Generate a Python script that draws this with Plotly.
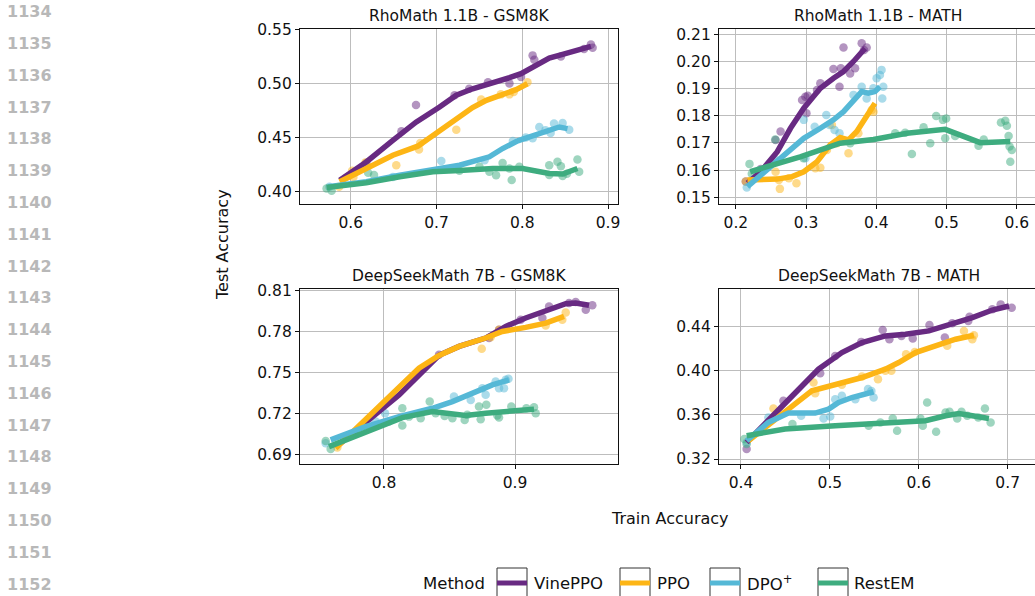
import plotly.graph_objects as go

W, H = 1035, 596

# ---------------- data ----------------
METHODS = ["VinePPO", "PPO", "DPO<sup>+</sup>", "RestEM"]
COLORS = ["#682a82", "#fdb515", "#55b8d6", "#3eac7f"]

PANEL_TITLES = ["RhoMath 1.1B - GSM8K", "RhoMath 1.1B - MATH",
                "DeepSeekMath 7B - GSM8K", "DeepSeekMath 7B - MATH"]

# RhoMath 1.1B - GSM8K
rg_vine_line = [(0.587, 0.410), (0.618, 0.427), (0.649, 0.447), (0.676, 0.464), (0.7035, 0.478),
                (0.723, 0.489), (0.742, 0.495), (0.7655, 0.500), (0.785, 0.5053), (0.7985, 0.509),
                (0.816, 0.5167), (0.8314, 0.5234), (0.847, 0.5269), (0.866, 0.5312), (0.880, 0.5343)]
rg_vine_pts = [(0.618, 0.426), (0.659, 0.4556), (0.676, 0.480), (0.721, 0.489), (0.738, 0.495),
               (0.760, 0.501), (0.785, 0.500), (0.7985, 0.506), (0.812, 0.526), (0.814, 0.522),
               (0.845, 0.525), (0.872, 0.532), (0.880, 0.536), (0.882, 0.533)]
rg_ppo_line = [(0.587, 0.4086), (0.618, 0.421), (0.649, 0.4333), (0.678, 0.4417), (0.6996, 0.4534),
               (0.723, 0.4673), (0.742, 0.4775), (0.758, 0.4843), (0.777, 0.4898), (0.7927, 0.4942),
               (0.806, 0.4997)]
rg_ppo_pts = [(0.6015, 0.4188), (0.603, 0.413), (0.617, 0.4266), (0.5864, 0.404), (0.653, 0.424),
              (0.6795, 0.4386), (0.681, 0.4447), (0.723, 0.457), (0.752, 0.485), (0.775, 0.4898),
              (0.785, 0.4898), (0.790, 0.492), (0.806, 0.501)]
rg_dpo_line = [(0.5736, 0.404), (0.618, 0.4086), (0.657, 0.4148), (0.7035, 0.421), (0.7267, 0.424),
               (0.7616, 0.4318), (0.777, 0.4395), (0.7946, 0.4466), (0.812, 0.4509), (0.8314, 0.4565),
               (0.843, 0.4595), (0.8527, 0.458)]
rg_dpo_pts = [(0.575, 0.404), (0.649, 0.413), (0.7055, 0.428), (0.756, 0.4287), (0.789, 0.4466),
              (0.804, 0.4497), (0.812, 0.449), (0.8198, 0.4595), (0.827, 0.4565), (0.833, 0.454),
              (0.837, 0.4627), (0.847, 0.4632), (0.8547, 0.457)]
rg_rest_line = [(0.5717, 0.4034), (0.618, 0.4077), (0.657, 0.4133), (0.6957, 0.4179), (0.7267, 0.419),
                (0.7655, 0.421), (0.8004, 0.421), (0.8314, 0.4164), (0.847, 0.4158), (0.8643, 0.421)]
rg_rest_pts = [(0.5717, 0.4024), (0.5776, 0.4003), (0.6202, 0.417), (0.627, 0.415), (0.7267, 0.4188),
               (0.75, 0.4225), (0.7616, 0.418), (0.7694, 0.4148), (0.777, 0.426), (0.785, 0.421),
               (0.7876, 0.4102), (0.7965, 0.4225), (0.8314, 0.424), (0.8314, 0.415), (0.841, 0.4272),
               (0.845, 0.423), (0.847, 0.414), (0.852, 0.416), (0.8643, 0.4293), (0.8663, 0.418)]

# RhoMath 1.1B - MATH
rm_vine_line = [(0.2165, 0.1552), (0.2354, 0.1594), (0.259, 0.1668), (0.2778, 0.1754), (0.2967, 0.1828),
                (0.3203, 0.1901), (0.339, 0.1938), (0.3533, 0.1963), (0.3675, 0.200), (0.384, 0.2048)]
rm_vine_pts = [(0.2142, 0.1558), (0.2354, 0.1604), (0.2566, 0.1711), (0.2637, 0.1742), (0.2943, 0.1858),
               (0.299, 0.187), (0.3024, 0.1874), (0.3005, 0.1809), (0.3156, 0.1895), (0.3203, 0.192),
               (0.339, 0.1972), (0.3476, 0.1907), (0.3495, 0.1975), (0.3627, 0.1956), (0.3533, 0.2051),
               (0.3698, 0.1975), (0.3792, 0.2067), (0.3825, 0.2042), (0.3863, 0.2051)]
rm_ppo_line = [(0.2165, 0.1564), (0.2354, 0.1567), (0.259, 0.1567), (0.2802, 0.1576), (0.2967, 0.1594),
               (0.3156, 0.1631), (0.3344, 0.1693), (0.3486, 0.172), (0.3604, 0.1711), (0.3722, 0.1742),
               (0.3863, 0.1803), (0.3981, 0.1846)]
rm_ppo_pts = [(0.2142, 0.1558), (0.2566, 0.1594), (0.2613, 0.1564), (0.2627, 0.1531), (0.2755, 0.157),
              (0.2863, 0.1552), (0.3132, 0.1607), (0.3203, 0.1609), (0.3297, 0.1674), (0.3368, 0.1766),
              (0.3439, 0.1699), (0.3604, 0.1662), (0.3745, 0.1736), (0.3934, 0.1821), (0.396, 0.1815)]
rm_dpo_line = [(0.2165, 0.1539), (0.2354, 0.1582), (0.259, 0.1631), (0.2778, 0.1674), (0.2967, 0.1717),
               (0.3203, 0.1754), (0.339, 0.1785), (0.3533, 0.1815), (0.3675, 0.1858), (0.3792, 0.1889),
               (0.3887, 0.1883), (0.3981, 0.1889), (0.4052, 0.1907)]
rm_dpo_pts = [(0.2156, 0.1536), (0.2566, 0.1637), (0.2967, 0.1785), (0.299, 0.1644), (0.3123, 0.176),
              (0.3288, 0.1803), (0.3335, 0.1766), (0.3406, 0.1748), (0.3476, 0.1736), (0.3675, 0.1877),
              (0.3792, 0.1907), (0.3863, 0.1864), (0.3958, 0.1901), (0.4005, 0.1938), (0.4052, 0.195),
              (0.4075, 0.1969), (0.4085, 0.1864), (0.4099, 0.1907)]
rm_rest_line = [(0.2204, 0.1594), (0.2916, 0.1649), (0.3486, 0.1699), (0.396, 0.1713), (0.4436, 0.1736),
                (0.4981, 0.175), (0.548, 0.1701), (0.5908, 0.1705)]
rm_rest_pts = [(0.2194, 0.1623), (0.2227, 0.1587), (0.256, 0.1713), (0.2963, 0.1644), (0.3628, 0.1699),
               (0.4269, 0.1736), (0.4411, 0.1738), (0.4507, 0.1659), (0.4673, 0.1758), (0.4768, 0.1699),
               (0.4853, 0.1799), (0.4948, 0.1785), (0.4995, 0.179), (0.4981, 0.1717), (0.5123, 0.1726),
               (0.5456, 0.169), (0.553, 0.1713), (0.5775, 0.1775), (0.5837, 0.1782), (0.586, 0.1763),
               (0.5884, 0.1726), (0.5898, 0.1687), (0.5908, 0.1631), (0.593, 0.1674)]

# DeepSeekMath 7B - GSM8K
dg_vine_line = [(0.7631, 0.6958), (0.786, 0.7138), (0.8115, 0.7338), (0.842, 0.7628), (0.8573, 0.7693),
                (0.8776, 0.7754), (0.8929, 0.7839), (0.9081, 0.790), (0.9234, 0.7949), (0.9387, 0.8005),
                (0.9463, 0.801), (0.9565, 0.7993)]
dg_vine_pts = [(0.842, 0.7632), (0.8802, 0.7754), (0.8878, 0.7815), (0.9043, 0.7888), (0.9209, 0.790),
               (0.926, 0.7985), (0.9412, 0.801), (0.9463, 0.8017), (0.954, 0.7961), (0.959, 0.7993)]
dg_ppo_line = [(0.7631, 0.6949), (0.786, 0.7158), (0.8038, 0.7322), (0.8267, 0.7534), (0.842, 0.7627),
               (0.8573, 0.7693), (0.8776, 0.7754), (0.8903, 0.7802), (0.9081, 0.7832), (0.9234, 0.7863),
               (0.9374, 0.7912)]
dg_ppo_pts = [(0.7644, 0.6954), (0.8746, 0.7676), (0.8814, 0.7759), (0.8878, 0.7815), (0.9234, 0.7846),
              (0.9361, 0.7888), (0.9387, 0.7941)]
dg_dpo_line = [(0.7593, 0.701), (0.786, 0.7107), (0.8115, 0.718), (0.8369, 0.7241), (0.8522, 0.729),
               (0.8674, 0.7351), (0.8827, 0.7412), (0.8954, 0.7449)]
dg_dpo_pts = [(0.7555, 0.6985), (0.7936, 0.7144), (0.8008, 0.7205), (0.8038, 0.7144), (0.8534, 0.7327),
              (0.8662, 0.7302), (0.8751, 0.7388), (0.8776, 0.7339), (0.8852, 0.7437), (0.8878, 0.7388),
              (0.8916, 0.7388), (0.8929, 0.7449), (0.895, 0.7456)]
dg_rest_line = [(0.758, 0.6961), (0.786, 0.7071), (0.814, 0.7173), (0.8369, 0.7217), (0.8522, 0.7205),
                (0.8623, 0.7188), (0.8776, 0.7205), (0.898, 0.7224), (0.9145, 0.7234)]
dg_rest_pts = [(0.7555, 0.7002), (0.7593, 0.6944), (0.814, 0.7241), (0.814, 0.7115), (0.8191, 0.718),
               (0.828, 0.7168), (0.8349, 0.729), (0.8394, 0.7205), (0.8463, 0.7185), (0.8522, 0.7168),
               (0.8616, 0.7156), (0.8636, 0.7193), (0.8725, 0.7254), (0.8738, 0.7161), (0.8781, 0.7266),
               (0.8865, 0.7188), (0.8878, 0.7173), (0.8972, 0.7254), (0.9087, 0.7241), (0.9145, 0.7249),
               (0.9158, 0.7205)]

# DeepSeekMath 7B - MATH
dm_vine_line = [(0.4064, 0.335), (0.4308, 0.3546), (0.4571, 0.3771), (0.4872, 0.4012), (0.5135, 0.4162),
                (0.5361, 0.4253), (0.5624, 0.4313), (0.585, 0.4328), (0.6113, 0.4358), (0.6376, 0.4418),
                (0.6602, 0.4478), (0.6827, 0.4547), (0.7015, 0.4583)]
dm_vine_pts = [(0.4064, 0.329), (0.4477, 0.3726), (0.4891, 0.3976), (0.506, 0.4132), (0.5353, 0.4259),
               (0.5594, 0.4367), (0.5669, 0.4283), (0.5805, 0.4313), (0.5932, 0.4289), (0.612, 0.4412),
               (0.6293, 0.4298), (0.6376, 0.4427), (0.6556, 0.4448), (0.6571, 0.4487), (0.6827, 0.4553),
               (0.6921, 0.4598), (0.7045, 0.4568)]
dm_ppo_line = [(0.4083, 0.3365), (0.4308, 0.3501), (0.4534, 0.3651), (0.4797, 0.3817), (0.506, 0.3877),
               (0.5361, 0.3937), (0.5624, 0.4012), (0.5774, 0.4072), (0.5962, 0.4162), (0.6188, 0.4229),
               (0.6414, 0.4283), (0.662, 0.4319)]
dm_ppo_pts = [(0.4365, 0.3657), (0.4816, 0.3892), (0.4835, 0.3795), (0.5135, 0.3871), (0.5361, 0.3946),
              (0.5541, 0.3922), (0.5624, 0.3997), (0.5692, 0.3997), (0.5857, 0.4147), (0.5955, 0.4168),
              (0.632, 0.4223), (0.6508, 0.4358), (0.6602, 0.4283), (0.662, 0.4319)]
dm_dpo_line = [(0.4064, 0.3365), (0.4308, 0.3531), (0.4534, 0.3615), (0.4835, 0.3615), (0.4985, 0.3651),
               (0.5098, 0.3711), (0.5248, 0.3756), (0.5492, 0.3808)]
dm_dpo_pts = [(0.4064, 0.335), (0.4308, 0.3576), (0.4677, 0.3591), (0.4929, 0.3567), (0.5004, 0.3585),
              (0.506, 0.3741), (0.5135, 0.3771), (0.5286, 0.3741), (0.5429, 0.3832), (0.5492, 0.3756),
              (0.5467, 0.3815)]
dm_rest_line = [(0.4064, 0.3411), (0.4496, 0.3471), (0.506, 0.3501), (0.5624, 0.3525), (0.6075, 0.3546),
                (0.6301, 0.3591), (0.6451, 0.3612), (0.6602, 0.3591), (0.6789, 0.3567)]
dm_rest_pts = [(0.4038, 0.338), (0.4064, 0.3335), (0.4579, 0.3516), (0.5436, 0.3501), (0.5568, 0.3531),
               (0.5707, 0.3567), (0.5756, 0.3456), (0.6019, 0.3567), (0.6045, 0.3501), (0.6094, 0.3711),
               (0.6195, 0.3447), (0.6301, 0.3621), (0.6346, 0.3627), (0.6432, 0.3567), (0.6481, 0.3627),
               (0.6545, 0.3591), (0.6669, 0.3576), (0.6744, 0.3657), (0.6808, 0.3531)]

PANEL_LINES = [
    [rg_vine_line, rg_ppo_line, rg_dpo_line, rg_rest_line],
    [rm_vine_line, rm_ppo_line, rm_dpo_line, rm_rest_line],
    [dg_vine_line, dg_ppo_line, dg_dpo_line, dg_rest_line],
    [dm_vine_line, dm_ppo_line, dm_dpo_line, dm_rest_line],
]
PANEL_POINTS = [
    [rg_vine_pts, rg_ppo_pts, rg_dpo_pts, rg_rest_pts],
    [rm_vine_pts, rm_ppo_pts, rm_dpo_pts, rm_rest_pts],
    [dg_vine_pts, dg_ppo_pts, dg_dpo_pts, dg_rest_pts],
    [dm_vine_pts, dm_ppo_pts, dm_dpo_pts, dm_rest_pts],
]

X_TICKS = [[0.6, 0.7, 0.8, 0.9], [0.2, 0.3, 0.4, 0.5, 0.6], [0.8, 0.9], [0.4, 0.5, 0.6, 0.7]]
Y_TICKS = [[0.40, 0.45, 0.50, 0.55], [0.15, 0.16, 0.17, 0.18, 0.19, 0.20, 0.21],
           [0.69, 0.72, 0.75, 0.78, 0.81], [0.32, 0.36, 0.40, 0.44]]
X_RANGES = [[0.5407, 0.9116], [0.176, 0.626], [0.7359, 0.9786], [0.3753, 0.7307]]
Y_RANGES = [[0.388, 0.5505], [0.14753, 0.21195], [0.6834, 0.8112], [0.3155, 0.4737]]

LINE_NUMBERS = list(range(1134, 1153))

# ---------------- layout geometry (pixels) ----------------
X_DOMAINS_PX = [(300, 618), (719, 1035), (300, 618), (719, 1035)]
Y_DOMAINS_PX = [(29, 204), (29, 204), (289, 464), (289, 464)]
TITLE_POS_PX = [(459, 16), (878, 16), (459, 276), (878.5, 276)]

FONT = "DejaVu Sans"


def px_x(p):
    return p / W


def px_y(p):
    return 1 - p / H


fig = go.Figure()

for k in range(4):
    sfx = "" if k == 0 else str(k + 1)
    xa, ya = "x" + sfx, "y" + sfx
    for m in range(4):
        pts = PANEL_POINTS[k][m]
        fig.add_trace(go.Scatter(
            x=[p[0] for p in pts], y=[p[1] for p in pts], mode="markers",
            marker=dict(color=COLORS[m], size=8.5, opacity=0.5, line=dict(width=0)),
            xaxis=xa, yaxis=ya, showlegend=False, hoverinfo="skip"))
    for m in range(4):
        ln = PANEL_LINES[k][m]
        fig.add_trace(go.Scatter(
            x=[p[0] for p in ln], y=[p[1] for p in ln], mode="lines",
            line=dict(color=COLORS[m], width=5.5),
            xaxis=xa, yaxis=ya, showlegend=False, hoverinfo="skip"))

axis_common = dict(showline=True, mirror=True, linecolor="#111111", linewidth=1.3,
                   showgrid=True, gridcolor="#bdbdbd", gridwidth=1, zeroline=False,
                   ticks="outside", ticklen=4, tickwidth=1, tickcolor="#111111",
                   automargin=False,
                   tickfont=dict(family=FONT, size=15.5, color="#111111"))

layout = dict(template="none", width=W, height=H,
              margin=dict(l=0, r=0, t=0, b=0, pad=0, autoexpand=False),
              paper_bgcolor="white", plot_bgcolor="white", showlegend=False)

for k in range(4):
    sfx = "" if k == 0 else str(k + 1)
    x0, x1 = X_DOMAINS_PX[k]
    y0, y1 = Y_DOMAINS_PX[k]
    layout["xaxis" + sfx] = dict(axis_common, domain=[px_x(x0), px_x(x1)], range=X_RANGES[k],
                                 tickvals=X_TICKS[k], ticktext=[f"{v:g}" for v in X_TICKS[k]],
                                 anchor="y" + sfx)
    layout["yaxis" + sfx] = dict(axis_common, domain=[px_y(y1), px_y(y0)], range=Y_RANGES[k],
                                 tickvals=Y_TICKS[k], ticktext=[f"{v:.2f}" for v in Y_TICKS[k]],
                                 anchor="x" + sfx)

fig.update_layout(**layout)

annotations = []
for k in range(4):
    tx, ty = TITLE_POS_PX[k]
    annotations.append(dict(text=PANEL_TITLES[k], x=px_x(tx), y=px_y(ty), xref="paper", yref="paper",
                            xanchor="center", yanchor="middle", showarrow=False,
                            font=dict(family=FONT, size=15.5, color="#111111")))

annotations.append(dict(text="Test Accuracy", x=px_x(222), y=px_y(245), xref="paper", yref="paper",
                        textangle=-90, xanchor="center", yanchor="middle", showarrow=False,
                        font=dict(family=FONT, size=16, color="#111111")))
annotations.append(dict(text="Train Accuracy", x=px_x(669.5), y=px_y(518), xref="paper", yref="paper",
                        xanchor="center", yanchor="middle", showarrow=False,
                        font=dict(family=FONT, size=16, color="#111111")))

for i, n in enumerate(LINE_NUMBERS):
    annotations.append(dict(text=str(n), x=px_x(5), y=px_y(11.7 + 31.8 * i), xref="paper", yref="paper",
                            xanchor="left", yanchor="middle", showarrow=False,
                            font=dict(family="DejaVu Sans", size=16, color="#b8b8b8", weight="bold")))

LEG_Y = 583
LEG_BOXES = [(497, 527), (620, 650), (710, 740), (818, 848)]
LEG_TEXT_X = [532, 655, 745, 852]
annotations.append(dict(text="Method", x=px_x(421), y=px_y(LEG_Y), xref="paper", yref="paper",
                        xanchor="left", yanchor="middle", showarrow=False,
                        font=dict(family=FONT, size=16.5, color="#111111")))
shapes = []
for m in range(4):
    bx0, bx1 = LEG_BOXES[m]
    shapes.append(dict(type="rect", xref="paper", yref="paper", x0=px_x(bx0), x1=px_x(bx1),
                       y0=px_y(610), y1=px_y(568), line=dict(color="#333333", width=1),
                       fillcolor="rgba(0,0,0,0)"))
    shapes.append(dict(type="line", xref="paper", yref="paper", x0=px_x(bx0), x1=px_x(bx1),
                       y0=px_y(LEG_Y), y1=px_y(LEG_Y), line=dict(color=COLORS[m], width=5)))
    annotations.append(dict(text=METHODS[m], x=px_x(LEG_TEXT_X[m]), y=px_y(LEG_Y), xref="paper",
                            yref="paper", xanchor="left", yanchor="middle", showarrow=False,
                            font=dict(family=FONT, size=16.5, color="#111111")))

fig.update_layout(annotations=annotations, shapes=shapes)

fig.write_html("out.html")
